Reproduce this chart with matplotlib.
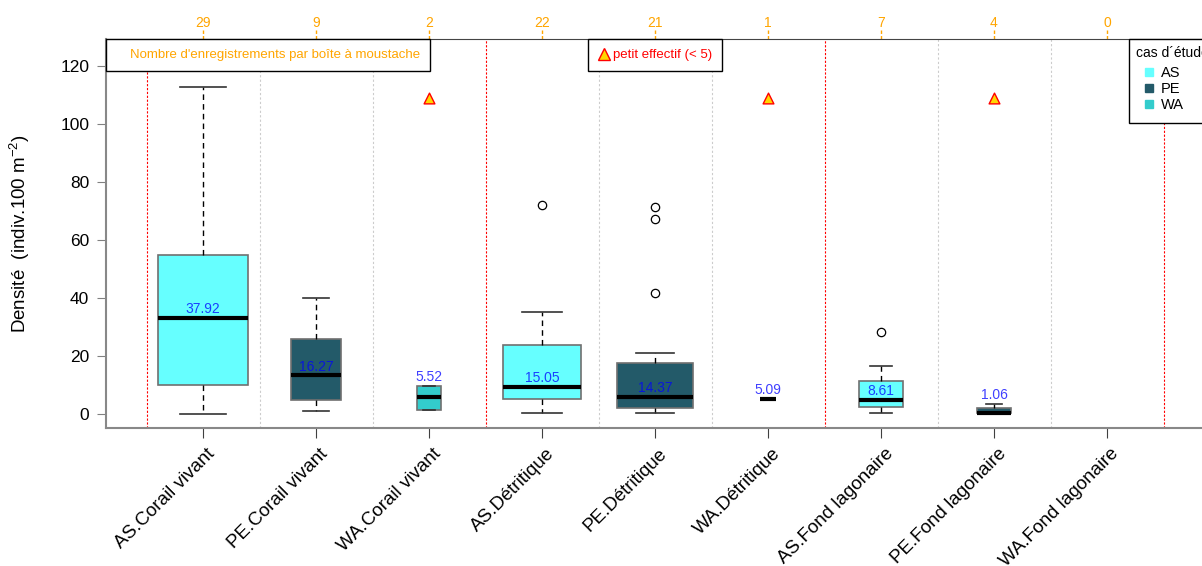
import numpy as np
import matplotlib
matplotlib.use("Agg")
import matplotlib.pyplot as plt
from matplotlib.lines import Line2D

plt.rcParams['font.family'] = ['Liberation Sans', 'DejaVu Sans']
plt.rcParams['mathtext.fontset'] = 'custom'
plt.rcParams['mathtext.rm'] = 'Liberation Sans'
plt.rcParams['mathtext.it'] = 'Liberation Sans:italic'

# --- données (densité par habitat et cas d'étude) ---
categories = ["AS.Corail vivant", "PE.Corail vivant", "WA.Corail vivant",
              "AS.Détritique", "PE.Détritique", "WA.Détritique",
              "AS.Fond lagonaire", "PE.Fond lagonaire", "WA.Fond lagonaire"]
cas = ["AS", "PE", "WA", "AS", "PE", "WA", "AS", "PE", "WA"]
effectifs = [29, 9, 2, 22, 21, 1, 7, 4, 0]
moyennes = [37.92, 16.27, 5.52, 15.05, 14.37, 5.09, 8.61, 1.06, None]
q1 = [10.0, 4.8, 1.4, 5.2, 2.1, 5.09, 2.4, 0.2, None]
mediane = [33.1, 13.4, 5.9, 9.3, 5.9, 5.09, 4.8, 0.4, None]
q3 = [54.8, 25.9, 9.7, 23.8, 17.6, 5.09, 11.4, 2.1, None]
moust_bas = [0.0, 1.0, 1.4, 0.3, 0.3, 5.09, 0.3, 0.0, None]
moust_haut = [112.8, 40.0, 9.7, 35.2, 21.0, 5.09, 16.5, 3.4, None]
extremes = [[], [], [], [72.1], [71.4, 67.2, 41.7], [], [28.3], [], []]

couleurs = {"AS": "#66FFFF", "PE": "#235A69", "WA": "#33CCCC"}
orange = "#FFA500"
seuil = 5
y_triangle = 109

W, H = 1202, 566
fig = plt.figure(figsize=(W / 100, H / 100), dpi=100)
ax_l, ax_r, ax_t, ax_b = 106, 1230, 39, 428
ax = fig.add_axes([ax_l / W, 1 - ax_b / H, (ax_r - ax_l) / W, (ax_b - ax_t) / H])

pos = np.arange(1, len(categories) + 1)
nmax = max(effectifs)

# boîtes à moustache (largeur proportionnelle à sqrt(n))
stats, positions, largeurs, cols = [], [], [], []
for i, n in enumerate(effectifs):
    if n == 0:
        continue
    stats.append(dict(med=mediane[i], q1=q1[i], q3=q3[i],
                      whislo=moust_bas[i], whishi=moust_haut[i],
                      fliers=extremes[i], label=categories[i]))
    positions.append(pos[i])
    largeurs.append(0.8 * np.sqrt(n / nmax))
    cols.append(couleurs[cas[i]])

bp = ax.bxp(stats, positions=positions, widths=largeurs, patch_artist=True,
            manage_ticks=False,
            boxprops=dict(edgecolor="#707070", linewidth=1.2),
            whiskerprops=dict(color="black", linestyle=(0, (4, 3)), linewidth=1),
            capprops=dict(color="#333333", linewidth=1.2),
            medianprops=dict(color="black", linewidth=3, solid_capstyle="butt"),
            flierprops=dict(marker="o", markerfacecolor="none",
                            markeredgecolor="black", markersize=6,
                            markeredgewidth=0.9))
for patch, c in zip(bp["boxes"], cols):
    patch.set_facecolor(c)

# moyennes affichées au-dessus de la médiane
for i, m in enumerate(moyennes):
    if m is None:
        continue
    if q3[i] - mediane[i] < 5:
        y = moust_haut[i] + 3.2
    else:
        y = mediane[i] + 3.0
    ax.text(pos[i], y, f"{m:.2f}", color="blue", alpha=0.75, fontsize=10,
            ha="center", va="center", zorder=5)

# petits effectifs
petits = [p for p, n in zip(pos, effectifs) if 0 < n < seuil]
ax.scatter(petits, [y_triangle] * len(petits), marker="^", s=60,
           facecolor="#FFD700", edgecolor="red", linewidth=1, zorder=5)

# séparateurs d'habitat et de cas
for k in range(len(categories) + 1):
    x = k + 0.5
    if k % 3 == 0:
        ax.axvline(x, color="red", linestyle=(0, (2, 1.5)), linewidth=0.8, zorder=0)
    else:
        ax.axvline(x, color="#CCCCCC", linestyle=(0, (2, 2)), linewidth=0.8, zorder=0)

ax.set_xlim(1 + (ax_l - 203) / 113, 1 + (ax_r - 203) / 113)
ax.set_ylim(-4.8, 129.3)
ax.set_yticks(np.arange(0, 121, 20))
ax.tick_params(axis="y", labelsize=12.5, length=6.5, color="#808080", pad=5.5)
ax.set_xticks(pos)
ax.set_xticklabels([])
ax.tick_params(axis="x", length=7, color="#404040")

for side in ["left", "bottom"]:
    ax.spines[side].set_color("#888888")
    ax.spines[side].set_linewidth(1.5)
ax.spines["top"].set_color("#444444")
ax.spines["right"].set_visible(False)

# étiquettes inclinées
for p, c in zip(pos, categories):
    ax.text(p + 0.03, -0.045, c, transform=ax.get_xaxis_transform(),
            rotation=45, ha="right", va="top", rotation_mode="anchor",
            fontsize=13.5, clip_on=False)

ax.set_ylabel("Densité  (indiv.100 m$^{-2}$)", fontsize=13.5)
ax.yaxis.set_label_coords(-0.066, 0.5)

# effectifs en haut
sec = ax.secondary_xaxis("top")
sec.set_xticks(pos, labels=[str(n) for n in effectifs])
sec.tick_params(length=6.5, color=(0, 0, 0, 0), labelcolor=orange, labelsize=10, pad=0)
sec.spines["top"].set_visible(False)
for p in pos:
    ax.plot([p, p], [1.0, 1.0 + 9 / 389], transform=ax.get_xaxis_transform(),
            color=orange, linestyle=(0, (2.5, 1.5)), linewidth=1, clip_on=False)

# légendes
leg1 = ax.legend(handles=[Line2D([], [], linestyle="none")],
                 labels=["Nombre d'enregistrements par boîte à moustache"],
                 loc="upper left", bbox_to_anchor=(0, 1), borderaxespad=0,
                 fancybox=False, edgecolor="black", framealpha=1,
                 handlelength=0.8, handletextpad=0.3, borderpad=0.75,
                 labelcolor=orange, fontsize=9.5)
leg1.get_frame().set_linewidth(1)
ax.add_artist(leg1)

leg2 = ax.legend(handles=[Line2D([], [], linestyle="none", marker="^",
                                 markerfacecolor="#FFD700", markeredgecolor="red",
                                 markersize=8)],
                 labels=[f"petit effectif (< {seuil})"],
                 loc="upper center", bbox_to_anchor=(5, 1),
                 bbox_transform=ax.get_xaxis_transform(), borderaxespad=0,
                 fancybox=False, edgecolor="black", framealpha=1,
                 handlelength=0.9, handletextpad=0.25, borderpad=0.75,
                 labelcolor="red", fontsize=9.5)
leg2.get_frame().set_linewidth(1)
ax.add_artist(leg2)

handles = [Line2D([], [], linestyle="none", marker="s", markersize=5.5,
                  markerfacecolor=couleurs[c], markeredgecolor=couleurs[c])
           for c in ["AS", "PE", "WA"]]
leg3 = ax.legend(handles=handles, labels=["AS", "PE", "WA"], title="cas d´étude",
                 loc="upper left", bbox_to_anchor=((1129 - ax_l) / (ax_r - ax_l), 1),
                 borderaxespad=0, fancybox=False, edgecolor="black", framealpha=1,
                 handlelength=1.2, handletextpad=0.2, labelspacing=0.12,
                 borderpad=0.45, fontsize=10.5, title_fontsize=10,
                 alignment="left")
leg3.get_frame().set_linewidth(1)
# entrées en retrait sous le titre
leg3._legend_handle_box.pad = 3.5

fig.savefig("out.png", dpi=100)
